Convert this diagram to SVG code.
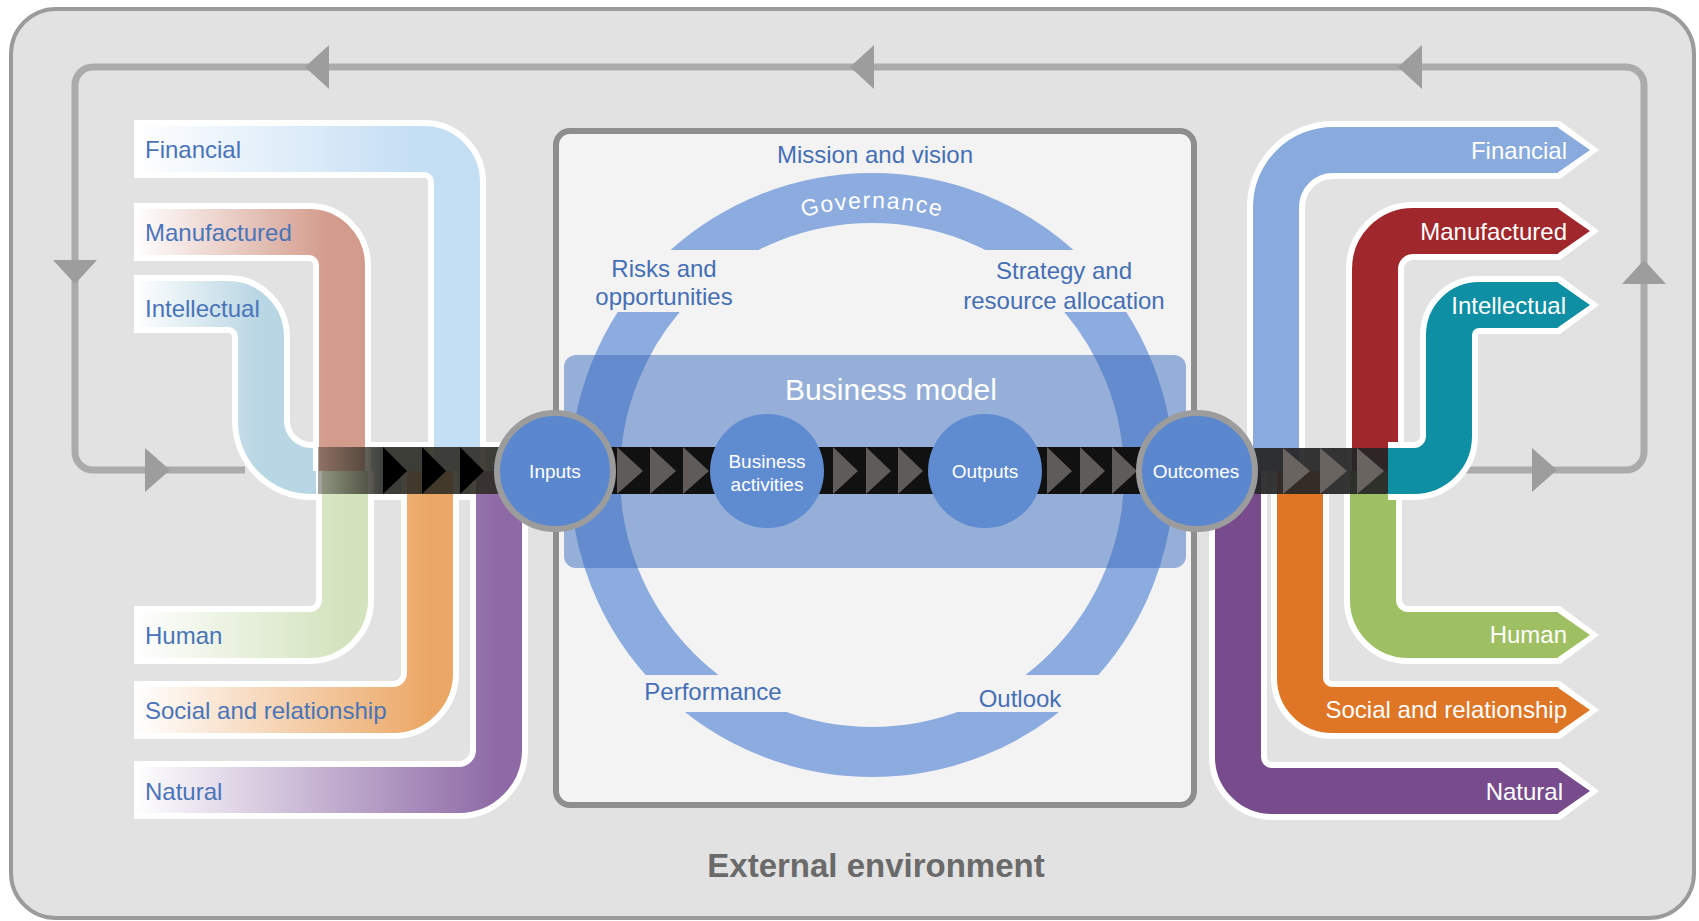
<svg xmlns="http://www.w3.org/2000/svg" width="1699" height="921" viewBox="0 0 1699 921">
<defs>
<style>
text{font-family:"Liberation Sans",Arial,sans-serif}
.cap{font-size:24px;fill:#4a74b9}
.capw{font-size:24px;fill:#fff;text-anchor:end}
.rw{fill:none;stroke:#fff;stroke-width:58}
.rc{fill:none;stroke-width:46}
.loop{fill:none;stroke:#ababab;stroke-width:7}
.arr{fill:#9d9d9d}
.bar{fill:#111}
.chev{fill:#5e5b58}
.pc{fill:#5f8bd1}
.pcb{fill:#5b87cf;stroke:#9c9c9c;stroke-width:6}
.ct{font-size:19px;fill:#fff;text-anchor:middle}
.lbl{font-size:24px;fill:#456fb5;text-anchor:middle}
</style>
<linearGradient id="gFin" gradientUnits="userSpaceOnUse" x1="134" y1="0" x2="420" y2="0"><stop offset="0" stop-color="#fff"/><stop offset="1" stop-color="#c4def4"/></linearGradient>
<linearGradient id="gMan" gradientUnits="userSpaceOnUse" x1="134" y1="0" x2="330" y2="0"><stop offset="0" stop-color="#fff"/><stop offset="1" stop-color="#d39b8b"/></linearGradient>
<linearGradient id="gInt" gradientUnits="userSpaceOnUse" x1="134" y1="0" x2="260" y2="0"><stop offset="0" stop-color="#fff"/><stop offset="1" stop-color="#b8d6e3"/></linearGradient>
<linearGradient id="gHum" gradientUnits="userSpaceOnUse" x1="134" y1="0" x2="345" y2="0"><stop offset="0" stop-color="#fff"/><stop offset="1" stop-color="#d3e3bd"/></linearGradient>
<linearGradient id="gSoc" gradientUnits="userSpaceOnUse" x1="134" y1="0" x2="430" y2="0"><stop offset="0" stop-color="#fff"/><stop offset="1" stop-color="#eba765"/></linearGradient>
<linearGradient id="gNat" gradientUnits="userSpaceOnUse" x1="134" y1="0" x2="499" y2="0"><stop offset="0" stop-color="#fff"/><stop offset="1" stop-color="#8d69a5"/></linearGradient>
<linearGradient id="gBarL" gradientUnits="userSpaceOnUse" x1="318" y1="0" x2="385" y2="0"><stop offset="0" stop-color="#3c3a30" stop-opacity="0.45"/><stop offset="1" stop-color="#2e2c24" stop-opacity="0.9"/></linearGradient>
<clipPath id="ringClip"><rect x="500" y="100" width="760" height="150"/><rect x="500" y="312" width="760" height="363"/><rect x="500" y="712" width="760" height="100"/></clipPath>
<path id="govArc" d="M 605 475 A 267 267 0 0 1 1139 475"/>
</defs>

<rect width="1699" height="921" fill="#fff"/>
<rect id="frame" x="11" y="9" width="1683" height="909" rx="45" fill="#e2e2e2" stroke="#9b9b9b" stroke-width="4"/>

<g id="connectors">
<path class="loop" d="M 245 470 H 93 A 18 18 0 0 1 75 452 V 85 A 18 18 0 0 1 93 67 H 1626 A 18 18 0 0 1 1644 85 V 452 A 18 18 0 0 1 1626 470 H 1465"/>
<polygon class="arr" points="305,67 329,45 329,89"/>
<polygon class="arr" points="850,67 874,45 874,89"/>
<polygon class="arr" points="1398,67 1422,45 1422,89"/>
<polygon class="arr" points="53,260 97,260 75,284"/>
<polygon class="arr" points="145,448 145,492 170,470"/>
<polygon class="arr" points="1622,284 1666,284 1644,260"/>
<polygon class="arr" points="1532,448 1532,492 1557,470"/>
</g>

<g id="inputs-capitals">
<g id="in-intellectual"><path class="rw" d="M 134 304 H 228 A 33 33 0 0 1 261 337 V 421 A 50 50 0 0 0 311 471 H 500"/><path class="rc" stroke="url(#gInt)" d="M 134 304 H 228 A 33 33 0 0 1 261 337 V 421 A 50 50 0 0 0 311 471 H 500"/></g>
<g id="in-manufactured"><path class="rw" d="M 134 232 H 309 A 33 33 0 0 1 342 265 V 471"/><path class="rc" stroke="url(#gMan)" d="M 134 232 H 309 A 33 33 0 0 1 342 265 V 471"/></g>
<g id="in-financial"><path class="rw" d="M 134 149 H 424 A 33 33 0 0 1 457 182 V 471"/><path class="rc" stroke="url(#gFin)" d="M 134 149 H 424 A 33 33 0 0 1 457 182 V 471"/></g>
<g id="in-human"><path class="rw" d="M 134 635 H 310 A 35 35 0 0 0 345 600 V 471"/><path class="rc" stroke="url(#gHum)" d="M 134 635 H 310 A 35 35 0 0 0 345 600 V 471"/></g>
<g id="in-social"><path class="rw" d="M 134 710 H 393 A 37 37 0 0 0 430 673 V 471"/><path class="rc" stroke="url(#gSoc)" d="M 134 710 H 393 A 37 37 0 0 0 430 673 V 471"/></g>
<g id="in-natural"><path class="rw" d="M 134 790 H 459 A 40 40 0 0 0 499 750 V 471"/><path class="rc" stroke="url(#gNat)" d="M 134 790 H 459 A 40 40 0 0 0 499 750 V 471"/></g>
<g id="in-bar">
<rect x="318" y="447" width="182" height="47" fill="url(#gBarL)"/>
<polygon fill="#000" points="383,447 407,471 383,494"/>
<polygon fill="#000" points="422,447 446,471 422,494"/>
<polygon fill="#000" points="460,447 484,471 460,494"/>
</g>
<text class="cap" x="145" y="158">Financial</text>
<text class="cap" x="145" y="241">Manufactured</text>
<text class="cap" x="145" y="317">Intellectual</text>
<text class="cap" x="145" y="644">Human</text>
<text class="cap" x="145" y="719">Social and relationship</text>
<text class="cap" x="145" y="800">Natural</text>
</g>

<g id="outcomes-capitals">
<g id="out-financial"><path class="rw" d="M 1276 471 V 207 A 57 57 0 0 1 1333 150 H 1558"/><polygon fill="#fff" points="1554,121 1560,121 1599,150 1560,179 1554,179"/><path class="rc" stroke="#88aadc" d="M 1276 471 V 207 A 57 57 0 0 1 1333 150 H 1558"/><polygon fill="#88aadc" points="1553,127 1557,127 1590,150 1557,173 1553,173"/><text class="capw" x="1567" y="159">Financial</text></g>
<g id="out-manufactured"><path class="rw" d="M 1375 471 V 269 A 38 38 0 0 1 1413 231 H 1558"/><polygon fill="#fff" points="1554,202 1560,202 1599,231 1560,260 1554,260"/><path class="rc" stroke="#a0272b" d="M 1375 471 V 269 A 38 38 0 0 1 1413 231 H 1558"/><polygon fill="#a0272b" points="1553,208 1557,208 1590,231 1557,254 1553,254"/><text class="capw" x="1567" y="240">Manufactured</text></g>
<g id="out-human"><path class="rw" d="M 1373 471 V 600 A 35 35 0 0 0 1408 635 H 1558"/><polygon fill="#fff" points="1554,606 1560,606 1599,635 1560,664 1554,664"/><path class="rc" stroke="#9fc062" d="M 1373 471 V 600 A 35 35 0 0 0 1408 635 H 1558"/><polygon fill="#9fc062" points="1553,612 1557,612 1590,635 1557,658 1553,658"/><text class="capw" x="1567" y="643">Human</text></g>
<g id="out-social"><path class="rw" d="M 1300 471 V 678 A 32 32 0 0 0 1332 710 H 1558"/><polygon fill="#fff" points="1554,681 1560,681 1599,710 1560,739 1554,739"/><path class="rc" stroke="#de7626" d="M 1300 471 V 678 A 32 32 0 0 0 1332 710 H 1558"/><polygon fill="#de7626" points="1553,687 1557,687 1590,710 1557,733 1553,733"/><text class="capw" x="1567" y="718">Social and relationship</text></g>
<g id="out-natural"><path class="rw" d="M 1238 471 V 757 A 34 34 0 0 0 1272 791 H 1558"/><polygon fill="#fff" points="1554,762 1560,762 1599,791 1560,820 1554,820"/><path class="rc" stroke="#784c8c" d="M 1238 471 V 757 A 34 34 0 0 0 1272 791 H 1558"/><polygon fill="#784c8c" points="1553,768 1557,768 1590,791 1557,814 1553,814"/><text class="capw" x="1563" y="800">Natural</text></g>
<g id="out-bar">
<rect x="1250" y="448" width="142" height="46" rx="6" fill="#262626" fill-opacity="0.93"/>
<polygon fill="#6a6461" points="1283,448 1310,471 1283,494"/>
<polygon fill="#6a6461" points="1320,448 1347,471 1320,494"/>
<polygon fill="#6a6461" points="1357,448 1384,471 1357,494"/>
</g>
<g id="out-intellectual"><path class="rw" d="M 1388 471 H 1414 A 35 35 0 0 0 1449 436 V 335 A 30 30 0 0 1 1479 305 H 1558"/><polygon fill="#fff" points="1554,276 1560,276 1599,305 1560,334 1554,334"/><path class="rc" stroke="#0f8fa3" d="M 1388 471 H 1414 A 35 35 0 0 0 1449 436 V 335 A 30 30 0 0 1 1479 305 H 1558"/><polygon fill="#0f8fa3" points="1553,282 1557,282 1590,305 1557,328 1553,328"/><text class="capw" x="1566" y="314">Intellectual</text></g>
</g>

<g id="business-box">
<rect x="556" y="131" width="638" height="674" rx="14" fill="#f3f3f3" stroke="#8e8e8e" stroke-width="6"/>
<g clip-path="url(#ringClip)"><circle cx="872" cy="475" r="277" fill="none" stroke="#8cabdf" stroke-width="50"/></g>
<text fill="#fff" font-size="23" letter-spacing="1.5" text-anchor="middle"><textPath href="#govArc" startOffset="50%">Governance</textPath></text>
<text class="lbl" x="875" y="163">Mission and vision</text>
<text class="lbl" x="664" y="277">Risks and</text>
<text class="lbl" x="664" y="305">opportunities</text>
<text class="lbl" x="1064" y="279">Strategy and</text>
<text class="lbl" x="1064" y="309">resource allocation</text>
<text class="lbl" x="713" y="700">Performance</text>
<text class="lbl" x="1020" y="707">Outlook</text>
</g>

<g id="business-model">
<rect x="564" y="355" width="622" height="213" rx="12" fill="#3a6cbe" fill-opacity="0.5"/>
<text x="891" y="400" font-size="30" fill="#fff" text-anchor="middle">Business model</text>
</g>

<g id="process-bars">
<rect class="bar" x="600" y="447" width="120" height="47"/>
<polygon class="chev" points="617,447 643,471 617,494"/>
<polygon class="chev" points="650,447 676,471 650,494"/>
<polygon class="chev" points="683,447 709,471 683,494"/>
<rect class="bar" x="815" y="447" width="120" height="47"/>
<polygon class="chev" points="833,447 858,471 833,494"/>
<polygon class="chev" points="866,447 891,471 866,494"/>
<polygon class="chev" points="898,447 923,471 898,494"/>
<rect class="bar" x="1030" y="447" width="115" height="47"/>
<polygon class="chev" points="1047,447 1072,471 1047,494"/>
<polygon class="chev" points="1080,447 1105,471 1080,494"/>
<polygon class="chev" points="1112,447 1137,471 1112,494"/>
</g>

<g id="node-inputs"><circle class="pcb" cx="555" cy="471" r="58"/><text class="ct" x="555" y="478">Inputs</text></g>
<g id="node-activities"><circle class="pc" cx="767" cy="471" r="57"/><text class="ct" x="767" y="468">Business</text><text class="ct" x="767" y="491">activities</text></g>
<g id="node-outputs"><circle class="pc" cx="985" cy="471" r="57"/><text class="ct" x="985" y="478">Outputs</text></g>
<g id="node-outcomes"><circle class="pcb" cx="1197" cy="471" r="58"/><text class="ct" x="1196" y="478">Outcomes</text></g>

<text x="876" y="877" font-size="33" font-weight="bold" fill="#6a6a6a" text-anchor="middle">External environment</text>
</svg>
